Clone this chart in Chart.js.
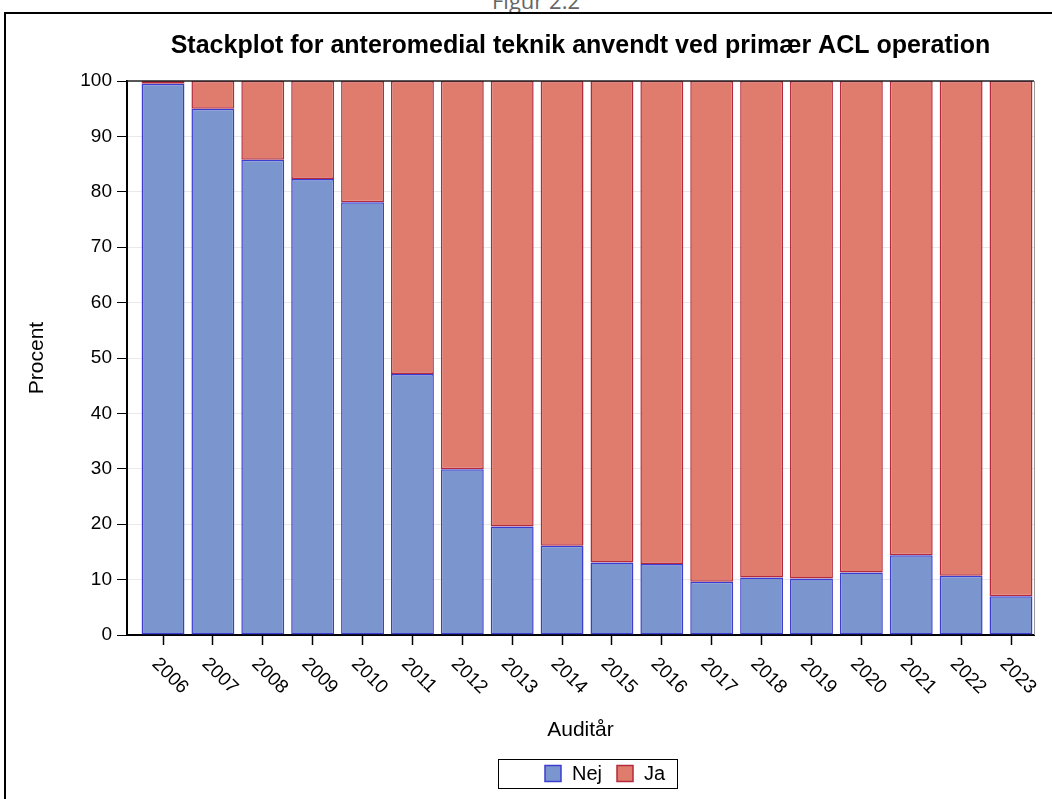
<!DOCTYPE html>
<html>
<head>
<meta charset="utf-8">
<script src="https://cdn.jsdelivr.net/npm/chart.js@4.4.1/dist/chart.umd.min.js"></script>
<style>
  html, body { margin: 0; padding: 0; background: #fff; overflow: hidden; }
  #fig { position: absolute; left: 0; top: -15px; width: 1072px; text-align: center;
         font: 22px "Open Sans", "Liberation Sans", sans-serif; color: #666; }
  #frame { position: absolute; left: 4px; top: 12px; width: 1100px; height: 900px;
           border-left: 2px solid #000; border-top: 2px solid #000; }
  #c { position: absolute; left: 0; top: 0; }
</style>
</head>
<body>
<div id="fig">Figur 2.2</div>
<div id="frame"></div>
<canvas id="c" width="1052" height="799"></canvas>
<script>
const FONT = '"Liberation Sans", Arial, sans-serif';

// data (percent per audit year)
const years = [2006, 2007, 2008, 2009, 2010, 2011, 2012, 2013, 2014,
               2015, 2016, 2017, 2018, 2019, 2020, 2021, 2022, 2023];
const nej = [99.5, 95.0, 85.8, 82.3, 78.1, 47.1, 29.9, 19.6, 16.1,
             13.1, 12.8, 9.6, 10.4, 10.2, 11.3, 14.4, 10.7, 7.0];
const ja = [0.5, 5.0, 14.2, 17.7, 21.9, 52.9, 70.1, 80.4, 83.9,
            86.9, 87.2, 90.4, 89.6, 89.8, 88.7, 85.6, 89.3, 93.0];
const seriesNames = ['Nej', 'Ja'];

const titleText = 'Stackplot for anteromedial teknik anvendt ved primær ACL operation';

// draws plot frame, rotated year labels and the boxed legend
const extras = {
  id: 'extras',
  afterDraw(chart) {
    const ctx = chart.ctx;
    const a = chart.chartArea;
    const xs = chart.scales.x;
    ctx.save();

    // top + right edge of the plot box
    ctx.strokeStyle = '#222';
    ctx.lineWidth = 1.5;
    ctx.beginPath();
    ctx.moveTo(a.left, a.top);
    ctx.lineTo(a.right, a.top);
    ctx.stroke();
    ctx.strokeStyle = '#999';
    ctx.lineWidth = 1;
    ctx.beginPath();
    ctx.moveTo(a.right + 0.5, a.top);
    ctx.lineTo(a.right + 0.5, a.bottom);
    ctx.stroke();

    // year labels, turned 45 deg clockwise
    ctx.fillStyle = '#000';
    ctx.font = '19px ' + FONT;
    ctx.textAlign = 'left';
    ctx.textBaseline = 'middle';
    years.forEach(y => {
      const px = xs.getPixelForValue(y);
      ctx.save();
      ctx.translate(px - 8, a.bottom + 26);
      ctx.rotate(Math.PI / 4);
      ctx.fillText(String(y), 0, 0);
      ctx.restore();
    });

    // legend
    const box = { x: 498, y: 759, w: 179, h: 29 };
    ctx.strokeStyle = '#000';
    ctx.lineWidth = 1;
    ctx.strokeRect(box.x + 0.5, box.y + 0.5, box.w, box.h);
    ctx.font = '20px ' + FONT;
    let lx = 545;
    const my = box.y + box.h / 2;
    chart.data.datasets.forEach(ds => {
      ctx.fillStyle = ds.backgroundColor;
      ctx.fillRect(lx, my - 8, 16, 16);
      ctx.strokeStyle = ds.borderColor;
      ctx.lineWidth = 1.5;
      ctx.strokeRect(lx, my - 8, 16, 16);
      lx += 27;
      ctx.fillStyle = '#000';
      ctx.fillText(ds.label, lx, my + 1);
      lx += ctx.measureText(ds.label).width + 15;
    });

    ctx.restore();
  }
};

const ctx = document.getElementById('c').getContext('2d');
new Chart(ctx, {
  type: 'bar',
  data: {
    datasets: [
      {
        label: seriesNames[0],
        data: years.map((y, i) => ({ x: y, y: nej[i] })),
        backgroundColor: '#7b96cf',
        borderColor: '#3c3cd0',
        borderWidth: 1.5,
        borderSkipped: false,
        barPercentage: 0.86,
        categoryPercentage: 1
      },
      {
        label: seriesNames[1],
        data: years.map((y, i) => ({ x: y, y: ja[i] })),
        backgroundColor: '#e07c6e',
        borderColor: '#b42a3c',
        borderWidth: 1.5,
        borderSkipped: false,
        barPercentage: 0.86,
        categoryPercentage: 1
      }
    ]
  },
  options: {
    responsive: false,
    animation: false,
    layout: { padding: { left: 6, right: 18, top: 20, bottom: 0 } },
    plugins: {
      legend: { display: false },
      tooltip: { enabled: false },
      title: {
        display: true,
        text: titleText,
        fullSize: false,
        color: '#000',
        font: { family: FONT, size: 25, weight: 'bold' },
        padding: { top: 11, bottom: 20 }
      }
    },
    scales: {
      x: {
        type: 'linear',
        stacked: true,
        offset: false,
        min: 2005.278,
        max: 2023.461,
        afterBuildTicks: s => { s.ticks = years.map(v => ({ value: v })); },
        afterFit: s => { s.height = 164; },
        ticks: { display: false },
        grid: { offset: false, drawOnChartArea: false, tickLength: 10, tickColor: '#000', tickWidth: 1.5 },
        border: { color: '#000', width: 2 },
        title: {
          display: true, text: 'Auditår', color: '#000',
          font: { family: FONT, size: 21 }, padding: { bottom: 56 }
        }
      },
      y: {
        stacked: true,
        min: 0,
        max: 100,
        afterFit: s => { s.width = 121; },
        ticks: { stepSize: 10, color: '#000', font: { family: FONT, size: 19 }, padding: 5 },
        grid: { color: '#e9e9e9', tickColor: '#000', tickLength: 10 },
        border: { color: '#000', width: 2 },
        title: {
          display: true, text: 'Procent', color: '#000',
          font: { family: FONT, size: 21 }, padding: { top: 19 }
        }
      }
    }
  },
  plugins: [extras]
});
</script>
</body>
</html>
